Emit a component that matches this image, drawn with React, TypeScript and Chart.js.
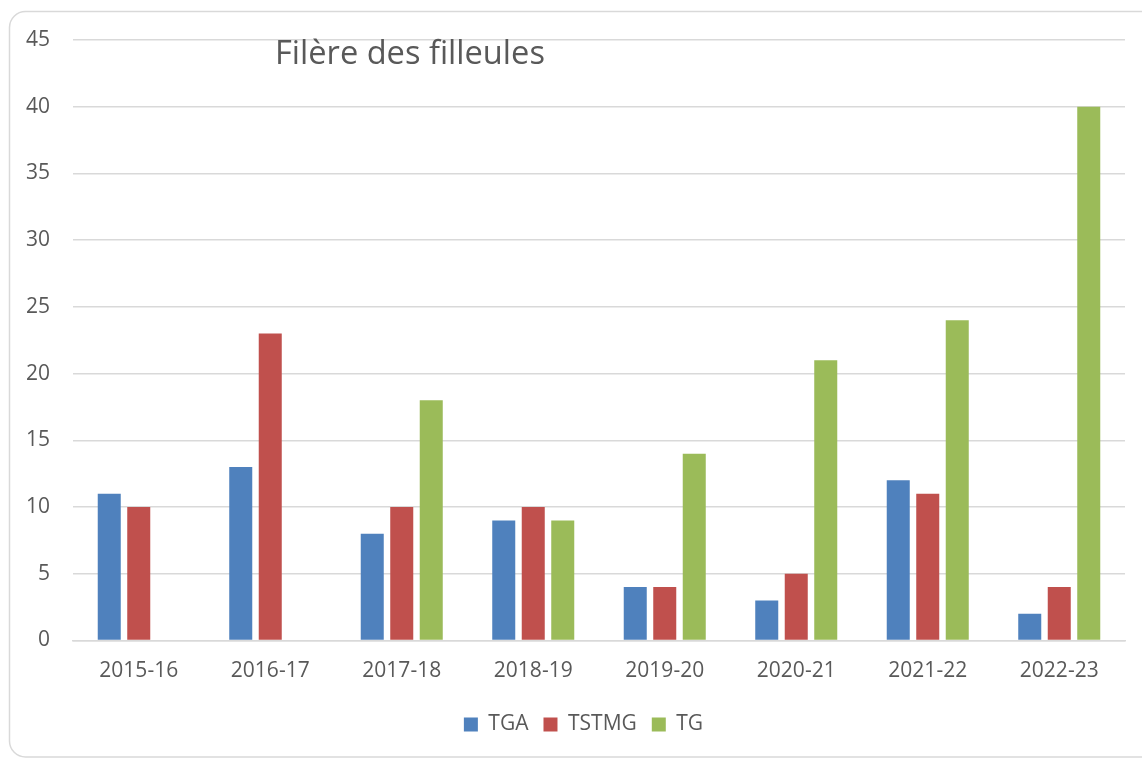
import React, { useEffect, useRef } from "react";
import { Chart, registerables } from "chart.js";

Chart.register(...registerables);

const categories = ["2015-16", "2016-17", "2017-18", "2018-19", "2019-20", "2020-21", "2021-22", "2022-23"];
const tgaValues = [11, 13, 8, 9, 4, 3, 12, 2];
const tstmgValues = [10, 23, 10, 10, 4, 5, 11, 4];
const tgValues = [null, null, 18, 9, 14, 21, 24, 40];
const seriesNames = ["TGA", "TSTMG", "TG"];
const titleText = "Filère des filleules";

const FONT = "'Open Sans', 'DejaVu Sans', sans-serif";
const TEXT = "#595959";
const GRID = "#d9d9d9";

const framePlugin = {
  id: "frameAndTitle",
  afterLayout(chart: any) {
    if (chart.legend) {
      chart.legend.left += 9;
      chart.legend.right += 9;
    }
  },
  beforeDraw(chart: any) {
    const ctx = chart.ctx;
    ctx.save();
    ctx.fillStyle = "#ffffff";
    ctx.fillRect(0, 0, chart.width, chart.height);
    ctx.strokeStyle = GRID;
    ctx.lineWidth = 1.5;
    const x = 9.5, y = 11.5, w = 1150, h = 745.5, r = 16;
    ctx.beginPath();
    ctx.moveTo(x + r, y);
    ctx.lineTo(x + w - r, y);
    ctx.arcTo(x + w, y, x + w, y + r, r);
    ctx.lineTo(x + w, y + h - r);
    ctx.arcTo(x + w, y + h, x + w - r, y + h, r);
    ctx.lineTo(x + r, y + h);
    ctx.arcTo(x, y + h, x, y + h - r, r);
    ctx.lineTo(x, y + r);
    ctx.arcTo(x, y, x + r, y, r);
    ctx.closePath();
    ctx.stroke();
    ctx.restore();
  },
  afterDraw(chart: any) {
    const ctx = chart.ctx;
    ctx.save();
    let size = 30;
    ctx.font = `${size}px ${FONT}`;
    const wMeasured = ctx.measureText(titleText).width;
    size = size * 270 / wMeasured;
    ctx.font = `${size}px ${FONT}`;
    ctx.fillStyle = TEXT;
    ctx.textAlign = "left";
    ctx.textBaseline = "middle";
    ctx.fillText(titleText, 275, 55);
    ctx.restore();
  },
};

export default function App() {
  const ref = useRef<HTMLCanvasElement | null>(null);
  useEffect(() => {
    if (!ref.current) return;
    const chart = new Chart(ref.current, {
      type: "bar",
      data: {
        labels: categories,
        datasets: [
          { label: seriesNames[0], data: tgaValues, backgroundColor: "#4F81BD" },
          { label: seriesNames[1], data: tstmgValues, backgroundColor: "#C0504D" },
          { label: seriesNames[2], data: tgValues as any, backgroundColor: "#9BBB59" },
        ],
      },
      options: {
        responsive: false,
        animation: false,
        datasets: { bar: { barPercentage: 0.78, categoryPercentage: 0.673 } },
        layout: { padding: { left: 24, right: 17, top: 40, bottom: 13 } },
        plugins: {
          title: { display: false },
          tooltip: { enabled: false },
          legend: {
            position: "bottom",
            maxHeight: 59.5,
            labels: {
              boxWidth: 14,
              boxHeight: 14,
              padding: 15,
              color: TEXT,
              font: { family: FONT, size: 21 },
            },
          },
        },
        scales: {
          x: {
            grid: { display: false, drawTicks: false },
            border: { display: true, color: GRID, width: 1.5 },
            ticks: { color: TEXT, font: { family: FONT, size: 21 }, padding: 18, maxRotation: 0 },
            afterFit(scale: any) { scale.height = 58.5; },
          },
          y: {
            min: 0,
            max: 45,
            ticks: { stepSize: 5, color: TEXT, font: { family: FONT, size: 21 }, padding: 23 },
            grid: { color: GRID, lineWidth: 1.5, drawTicks: false },
            border: { display: false },
            afterFit(scale: any) { scale.width = 49; },
          },
        },
      } as any,
      plugins: [framePlugin],
    });
    return () => chart.destroy();
  }, []);
  return (
    <div style={{ position: "absolute", left: 0, top: 0 }}>
      <canvas ref={ref} width={1142} height={758} style={{ display: "block" }} />
    </div>
  );
}
